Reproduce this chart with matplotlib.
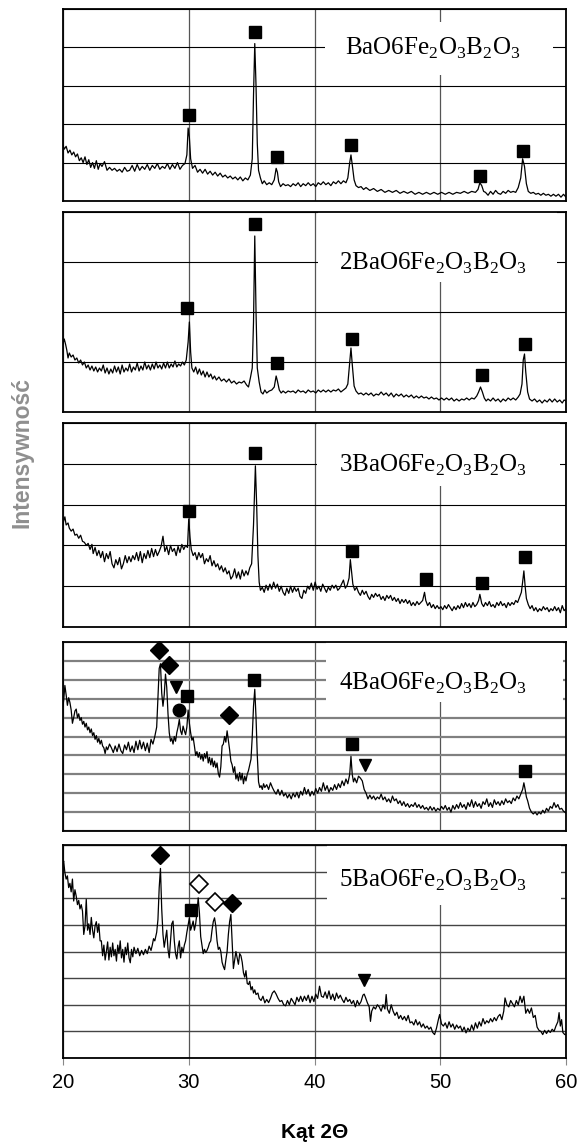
import matplotlib
matplotlib.use("Agg")
import matplotlib.pyplot as plt
from matplotlib.patches import Rectangle
from matplotlib.transforms import blended_transform_factory

plt.rcParams['font.family'] = ['Liberation Sans', 'DejaVu Sans']

# XRD patterns, intensity in % of the panel height, angle 2theta in degrees
p1 = [(20.0, 29), (20.1, 27), (20.25, 28.5), (20.4, 25), (20.55, 26.5), (20.7, 24), (20.85, 25.5), (21.0, 23),
      (21.15, 24.5), (21.3, 21), (21.45, 22.5), (21.6, 20), (21.75, 23), (21.9, 19), (22.05, 21.5), (22.2, 17.5),
      (22.35, 20), (22.5, 17), (22.65, 21), (22.8, 16.5), (22.95, 19.5), (23.1, 18), (23.3, 20.5), (23.5, 16),
      (23.7, 17.5), (23.9, 16), (24.1, 17), (24.3, 15.5), (24.5, 16.5), (24.7, 15), (24.9, 17.5), (25.1, 15.5),
      (25.3, 16), (25.5, 18.5), (25.7, 15.5), (25.9, 19), (26.1, 16), (26.3, 18), (26.5, 16.5), (26.7, 19),
      (26.9, 16), (27.1, 18.5), (27.3, 17), (27.5, 19.5), (27.7, 16.5), (27.9, 18), (28.1, 17), (28.3, 19.5),
      (28.5, 16.5), (28.7, 19), (28.9, 17), (29.1, 20), (29.3, 16.5), (29.5, 18.5), (29.7, 19.5), (29.85, 24),
      (29.95, 38), (30.05, 33), (30.15, 22), (30.3, 17), (30.5, 18.5), (30.7, 15), (30.9, 16.5), (31.1, 14.5),
      (31.3, 16.5), (31.5, 14), (31.7, 15.5), (31.9, 13.5), (32.1, 15), (32.3, 13), (32.5, 14.5), (32.7, 12.5),
      (32.9, 13.5), (33.1, 12), (33.3, 13), (33.5, 11.5), (33.7, 12.5), (33.9, 11), (34.1, 12.5), (34.3, 10.5),
      (34.5, 12), (34.7, 11), (34.9, 13.5), (35.05, 22), (35.15, 55), (35.25, 82), (35.35, 60), (35.45, 30),
      (35.55, 16), (35.7, 12), (35.85, 9), (36.0, 10.5), (36.2, 8.5), (36.4, 9.5), (36.6, 8.5), (36.8, 11),
      (36.95, 17), (37.05, 15), (37.15, 10), (37.3, 7.5), (37.5, 9), (37.7, 8), (37.9, 8.5), (38.1, 7.5),
      (38.3, 9), (38.5, 8), (38.7, 9.5), (38.9, 7.5), (39.1, 9), (39.3, 8), (39.5, 9.5), (39.7, 8), (39.9, 9),
      (40.1, 7.5), (40.3, 9.5), (40.5, 8.5), (40.7, 10), (40.9, 8.5), (41.1, 9.5), (41.3, 8), (41.5, 10),
      (41.7, 9), (41.9, 10.5), (42.1, 9), (42.3, 10.5), (42.5, 9.5), (42.65, 12), (42.8, 20), (42.9, 24),
      (43.0, 19), (43.15, 11), (43.3, 8), (43.5, 7), (43.7, 7.5), (43.9, 6), (44.1, 7), (44.4, 5.5), (44.7, 6.5),
      (45.0, 5), (45.3, 6), (45.6, 4.5), (45.9, 5.5), (46.2, 4.5), (46.5, 5.5), (46.8, 4), (47.1, 5), (47.4, 4),
      (47.7, 5), (48.0, 3.5), (48.3, 4.5), (48.6, 3.5), (48.9, 4.5), (49.2, 3.5), (49.5, 4.5), (49.8, 3.5),
      (50.1, 4.5), (50.4, 3.5), (50.7, 4.5), (51.0, 3.5), (51.3, 4.5), (51.6, 4), (51.9, 5), (52.2, 4), (52.5, 5),
      (52.8, 4.5), (53.0, 6), (53.15, 9.5), (53.3, 8), (53.45, 5), (53.6, 4.5), (53.8, 3), (54.0, 5), (54.2, 3.5),
      (54.4, 5.5), (54.6, 4), (54.8, 3.5), (55.0, 5), (55.2, 4), (55.4, 5.5), (55.6, 4.5), (55.8, 5), (56.0, 4.5),
      (56.2, 7), (56.4, 12), (56.55, 22), (56.7, 18), (56.85, 9), (57.0, 5), (57.2, 4), (57.4, 4.5), (57.6, 3.5),
      (57.8, 4), (58.0, 3), (58.2, 4), (58.4, 3), (58.6, 3.5), (58.8, 2.5), (59.0, 3.5), (59.2, 2.5), (59.4, 3.5),
      (59.6, 2), (59.8, 3.5), (60.0, 2)]

p2 = [(20.0, 34), (20.1, 36.5), (20.2, 34), (20.3, 31), (20.4, 27), (20.5, 29.5), (20.65, 27.5), (20.8, 28.5),
      (20.95, 26), (21.1, 27), (21.25, 24.5), (21.4, 26), (21.55, 23.5), (21.7, 25), (21.85, 22), (22.0, 23.5),
      (22.15, 21), (22.3, 23), (22.45, 20.5), (22.6, 22.5), (22.75, 20), (22.9, 22), (23.05, 20.5), (23.2, 23.5),
      (23.35, 19.5), (23.5, 22), (23.65, 19), (23.8, 21.5), (23.95, 19.5), (24.1, 23), (24.25, 20), (24.4, 22.5),
      (24.55, 19), (24.7, 23.5), (24.85, 20), (25.0, 22), (25.15, 20.5), (25.3, 24), (25.45, 20), (25.6, 22.5),
      (25.75, 21), (25.9, 24.5), (26.05, 20.5), (26.2, 23), (26.35, 21), (26.5, 25), (26.65, 21.5), (26.8, 23.5),
      (26.95, 21), (27.1, 24), (27.25, 21.5), (27.4, 25), (27.55, 22), (27.7, 23.5), (27.85, 21.5), (28.0, 24.5),
      (28.15, 22), (28.3, 25), (28.45, 22), (28.6, 24), (28.75, 22.5), (28.9, 25.5), (29.05, 22.5), (29.2, 24),
      (29.35, 23), (29.5, 25), (29.65, 23.5), (29.8, 26), (29.95, 35), (30.05, 45), (30.15, 30), (30.25, 22),
      (30.4, 20), (30.55, 22.5), (30.7, 19), (30.85, 21.5), (31.0, 18.5), (31.15, 20.5), (31.3, 17.5), (31.45, 20),
      (31.6, 17.5), (31.75, 19), (31.9, 16.5), (32.05, 18), (32.2, 16), (32.4, 17.5), (32.6, 15.5), (32.8, 16.5),
      (33.0, 15), (33.2, 16.5), (33.4, 14.5), (33.6, 15.5), (33.8, 14), (34.0, 15), (34.2, 14.5), (34.4, 15.5),
      (34.6, 13.5), (34.75, 12.5), (34.9, 17), (35.05, 22), (35.15, 45), (35.25, 88), (35.35, 50), (35.45, 22),
      (35.6, 15), (35.75, 10), (35.9, 9), (36.05, 11), (36.2, 9.5), (36.4, 10.5), (36.6, 11), (36.8, 12.5),
      (36.95, 18), (37.05, 15.5), (37.2, 11), (37.35, 9.5), (37.5, 10.5), (37.7, 9.5), (37.9, 10.5), (38.1, 10),
      (38.3, 10.5), (38.5, 9.5), (38.7, 11), (38.9, 10), (39.1, 10.5), (39.3, 9.5), (39.5, 11), (39.7, 10),
      (39.9, 10.5), (40.1, 9.5), (40.3, 11), (40.5, 10), (40.7, 11), (40.9, 10), (41.1, 11), (41.3, 10), (41.5, 11),
      (41.7, 10.5), (41.9, 11.5), (42.1, 10), (42.3, 11), (42.5, 12), (42.65, 14), (42.8, 25), (42.9, 32),
      (43.0, 24), (43.15, 13), (43.3, 10.5), (43.5, 9), (43.7, 9.5), (43.9, 8.5), (44.1, 9.5), (44.3, 8.5),
      (44.5, 9.5), (44.7, 8), (44.9, 9), (45.1, 8.5), (45.3, 10), (45.5, 8.5), (45.7, 9.5), (45.9, 8), (46.1, 9.5),
      (46.3, 7.5), (46.5, 9), (46.7, 8), (46.9, 9), (47.1, 7.5), (47.3, 8.5), (47.5, 7.5), (47.7, 8.5), (47.9, 7),
      (48.1, 8), (48.3, 7), (48.5, 8), (48.7, 7), (48.9, 7.5), (49.1, 6.5), (49.3, 7.5), (49.5, 6.5), (49.7, 7),
      (49.9, 6), (50.1, 7), (50.3, 6), (50.5, 7), (50.7, 6), (50.9, 7), (51.1, 5.5), (51.3, 6.5), (51.5, 5.5),
      (51.7, 6.5), (51.9, 6), (52.1, 7), (52.3, 6), (52.5, 7), (52.7, 6.5), (52.9, 8), (53.05, 10), (53.2, 12.5),
      (53.35, 10), (53.5, 7), (53.65, 5.5), (53.8, 6.5), (54.0, 5.5), (54.2, 7), (54.4, 5.5), (54.6, 6.5), (54.8, 5),
      (55.0, 6.5), (55.2, 5.5), (55.4, 7), (55.6, 6), (55.8, 7), (56.0, 6), (56.2, 7.5), (56.35, 9), (56.5, 14),
      (56.6, 26), (56.7, 29), (56.8, 20), (56.95, 10), (57.1, 6.5), (57.3, 5.5), (57.5, 6.5), (57.7, 5), (57.9, 6),
      (58.1, 4.5), (58.3, 6), (58.5, 5), (58.7, 6.5), (58.9, 5), (59.1, 6.5), (59.3, 5), (59.5, 6), (59.7, 4.5),
      (59.85, 6), (60.0, 5.5)]

p3 = [(20.0, 50), (20.05, 52), (20.15, 54), (20.25, 50), (20.4, 51), (20.5, 48.5), (20.65, 47), (20.8, 48),
      (20.95, 45), (21.1, 45.5), (21.25, 43.5), (21.4, 45), (21.55, 42), (21.7, 41.5), (21.85, 40), (22.0, 41),
      (22.15, 38), (22.3, 40.5), (22.4, 36), (22.55, 39), (22.7, 35), (22.85, 37.5), (23.0, 34), (23.15, 37),
      (23.3, 32), (23.45, 36), (23.6, 33.5), (23.75, 37), (23.9, 31), (24.05, 29), (24.2, 33), (24.35, 30.5),
      (24.5, 34), (24.65, 28.5), (24.8, 31), (24.95, 35), (25.1, 31.5), (25.25, 34.5), (25.4, 32), (25.55, 35),
      (25.7, 33), (25.85, 36.5), (26.0, 32.5), (26.15, 37), (26.3, 31.5), (26.45, 36), (26.6, 33.5), (26.75, 37.5),
      (26.9, 34), (27.05, 38.5), (27.2, 34.5), (27.35, 38), (27.5, 35), (27.65, 37), (27.8, 39.5), (27.95, 44.5),
      (28.1, 37), (28.25, 39.5), (28.4, 35.5), (28.55, 40), (28.7, 37), (28.85, 38.5), (29.0, 35), (29.15, 39.5),
      (29.3, 36.5), (29.45, 40.5), (29.6, 38), (29.75, 40), (29.9, 39), (30.0, 53), (30.1, 44), (30.2, 38),
      (30.35, 35), (30.5, 36.5), (30.65, 33), (30.8, 36.5), (30.95, 34), (31.1, 36), (31.25, 31), (31.4, 33.5),
      (31.55, 32), (31.7, 35), (31.85, 30), (32.0, 32.5), (32.15, 29.5), (32.3, 31), (32.45, 28), (32.6, 30),
      (32.75, 27), (32.9, 29), (33.05, 26), (33.2, 27.5), (33.35, 23.5), (33.5, 25), (33.65, 28.5), (33.8, 24),
      (33.95, 27), (34.1, 23.5), (34.25, 28), (34.4, 25), (34.55, 27.5), (34.7, 25.5), (34.85, 29), (35.0, 31),
      (35.15, 50), (35.3, 79), (35.4, 60), (35.5, 35), (35.6, 22), (35.7, 18), (35.85, 19.5), (36.0, 17),
      (36.15, 20.5), (36.3, 18), (36.45, 21), (36.6, 18.5), (36.75, 22), (36.9, 19), (37.05, 21), (37.2, 17.5),
      (37.35, 20), (37.5, 17), (37.65, 15.5), (37.8, 19), (37.95, 16.5), (38.1, 20), (38.25, 17), (38.4, 19.5),
      (38.55, 17.5), (38.7, 19), (38.85, 15), (39.0, 14), (39.15, 18), (39.3, 16.5), (39.45, 20), (39.6, 18.5),
      (39.75, 21.5), (39.9, 18), (40.05, 22), (40.2, 18.5), (40.35, 20), (40.5, 17.5), (40.65, 21), (40.8, 19),
      (40.95, 17), (41.1, 19.5), (41.25, 18), (41.4, 20.5), (41.55, 19), (41.7, 20.5), (41.85, 18), (42.0, 19),
      (42.15, 21), (42.3, 23), (42.45, 19), (42.6, 20.5), (42.75, 24), (42.85, 33), (42.95, 27), (43.05, 21),
      (43.2, 18), (43.35, 19.5), (43.5, 17), (43.65, 15.5), (43.8, 18), (43.95, 16), (44.1, 17.5), (44.25, 15),
      (44.4, 13.5), (44.55, 16), (44.7, 14.5), (44.85, 16.5), (45.0, 15), (45.15, 16), (45.3, 13.5), (45.45, 15),
      (45.6, 13), (45.75, 15.5), (45.9, 14), (46.05, 15.5), (46.2, 13), (46.35, 14.5), (46.5, 12.5), (46.65, 14),
      (46.8, 11.5), (46.95, 13.5), (47.1, 12), (47.25, 13.5), (47.4, 11.5), (47.55, 13), (47.7, 10.5), (47.85, 12),
      (48.0, 10.5), (48.15, 12.5), (48.3, 11), (48.45, 12), (48.6, 13), (48.75, 17), (48.85, 13), (49.0, 10.5),
      (49.15, 12), (49.3, 9.5), (49.45, 11), (49.6, 9), (49.75, 10.5), (49.9, 9), (50.05, 10), (50.2, 8.5),
      (50.35, 10.5), (50.5, 9), (50.65, 11), (50.8, 9.5), (50.95, 8), (51.1, 10), (51.25, 8.5), (51.4, 10.5),
      (51.55, 9), (51.7, 11.5), (51.85, 9.5), (52.0, 12), (52.15, 10), (52.3, 11.5), (52.45, 9.5), (52.6, 12),
      (52.75, 10), (52.9, 11), (53.05, 13), (53.15, 16), (53.3, 11.5), (53.45, 10), (53.6, 12), (53.75, 10.5),
      (53.9, 12.5), (54.05, 10), (54.2, 11), (54.35, 9.5), (54.5, 12), (54.65, 10.5), (54.8, 12.5), (54.95, 10.5),
      (55.1, 11.5), (55.25, 9.5), (55.4, 12), (55.55, 10.5), (55.7, 12), (55.85, 11), (56.0, 13), (56.15, 12),
      (56.3, 14.5), (56.45, 17), (56.55, 22), (56.65, 27.5), (56.75, 20), (56.85, 14), (57.0, 11), (57.15, 9),
      (57.3, 10.5), (57.45, 8), (57.6, 9.5), (57.75, 7.5), (57.9, 9), (58.05, 8), (58.2, 10), (58.35, 8.5),
      (58.5, 9.5), (58.65, 7.5), (58.8, 9), (58.95, 8), (59.1, 10), (59.25, 8), (59.4, 9.5), (59.55, 7),
      (59.7, 10.5), (59.85, 8), (60.0, 9)]

p4 = [(20.0, 66), (20.05, 69), (20.15, 77), (20.25, 72), (20.35, 66.5), (20.45, 70.5), (20.55, 68), (20.65, 64),
      (20.75, 57), (20.85, 60), (20.95, 63.5), (21.05, 64.5), (21.15, 60), (21.25, 62), (21.35, 58.5), (21.45, 60),
      (21.55, 56.5), (21.65, 58), (21.75, 55), (21.85, 57), (21.95, 53.5), (22.05, 55), (22.15, 52), (22.25, 54),
      (22.35, 50.5), (22.45, 52), (22.55, 48.5), (22.65, 50.5), (22.75, 47), (22.85, 49), (22.95, 46), (23.05, 48),
      (23.15, 45), (23.25, 44), (23.35, 41), (23.45, 44.5), (23.55, 43), (23.7, 46), (23.85, 44), (24.0, 41.5),
      (24.15, 45), (24.3, 42), (24.45, 46), (24.6, 42.5), (24.75, 41), (24.9, 45.5), (25.05, 43), (25.2, 47),
      (25.35, 42), (25.5, 45), (25.65, 41.5), (25.8, 47.5), (25.95, 43), (26.1, 48), (26.25, 43.5), (26.4, 47),
      (26.55, 42.5), (26.7, 46.5), (26.85, 41.5), (27.0, 48.5), (27.15, 46), (27.3, 50), (27.45, 55), (27.55, 70),
      (27.65, 86), (27.75, 88.5), (27.85, 73), (27.95, 66), (28.05, 72), (28.15, 83), (28.25, 76), (28.35, 62),
      (28.45, 52), (28.55, 47.5), (28.65, 49), (28.75, 46), (28.85, 50), (28.95, 47.5), (29.05, 52), (29.15, 55),
      (29.25, 59), (29.35, 53), (29.45, 51), (29.55, 55.5), (29.65, 53), (29.75, 51), (29.85, 55), (29.95, 64),
      (30.05, 57), (30.15, 52), (30.25, 48), (30.35, 49.5), (30.45, 45), (30.55, 40), (30.65, 42), (30.75, 39),
      (30.85, 41.5), (30.95, 38), (31.05, 40.5), (31.15, 37), (31.25, 41), (31.35, 38.5), (31.45, 42), (31.55, 36),
      (31.65, 39), (31.75, 35), (31.85, 38.5), (31.95, 34), (32.05, 37), (32.15, 33.5), (32.25, 36), (32.35, 30.5),
      (32.45, 28.5), (32.55, 34), (32.65, 45), (32.75, 46), (32.85, 50), (32.95, 47), (33.05, 53), (33.15, 48),
      (33.25, 43), (33.35, 37), (33.45, 35), (33.55, 31), (33.65, 34), (33.75, 27.5), (33.85, 30), (33.95, 26.5),
      (34.05, 31), (34.15, 27), (34.25, 30.5), (34.35, 25), (34.45, 29), (34.55, 26.5), (34.65, 30), (34.75, 32),
      (34.85, 35), (34.95, 38), (35.05, 50), (35.15, 66), (35.25, 75), (35.35, 60), (35.45, 40), (35.55, 26),
      (35.65, 23), (35.75, 24), (35.85, 22), (35.95, 25), (36.05, 23), (36.2, 24.5), (36.35, 22), (36.5, 25.5),
      (36.65, 23), (36.8, 21), (36.95, 19.5), (37.1, 22), (37.25, 19), (37.4, 21.5), (37.55, 18.5), (37.7, 20),
      (37.85, 17.5), (38.0, 19.5), (38.15, 17), (38.3, 20), (38.45, 18), (38.6, 20.5), (38.75, 17.5), (38.9, 21),
      (39.05, 19), (39.2, 23), (39.35, 19.5), (39.5, 22), (39.65, 18.5), (39.8, 21), (39.95, 19), (40.1, 22.5),
      (40.25, 20), (40.4, 23), (40.55, 21), (40.7, 25.5), (40.85, 21.5), (41.0, 24), (41.15, 20.5), (41.3, 23),
      (41.45, 21.5), (41.6, 24.5), (41.75, 22), (41.9, 25), (42.05, 23), (42.2, 26.5), (42.35, 24), (42.5, 27.5),
      (42.65, 25), (42.8, 30), (42.9, 39.5), (43.0, 30), (43.1, 26), (43.2, 28), (43.35, 25.5), (43.5, 29),
      (43.65, 28), (43.8, 26.5), (43.95, 22), (44.1, 20), (44.25, 17), (44.4, 19), (44.55, 17), (44.7, 18.5),
      (44.85, 16.5), (45.0, 18), (45.15, 17), (45.3, 19.5), (45.45, 16.5), (45.6, 18), (45.75, 15.5), (45.9, 17),
      (46.05, 15), (46.2, 18.5), (46.35, 16), (46.5, 17), (46.65, 14.5), (46.8, 16), (46.95, 13.5), (47.1, 15.5),
      (47.25, 13), (47.4, 14.5), (47.55, 12.5), (47.7, 14), (47.85, 13), (48.0, 15), (48.15, 12.5), (48.3, 14),
      (48.45, 12), (48.6, 13.5), (48.75, 11.5), (48.9, 12.5), (49.05, 11), (49.2, 13), (49.35, 11), (49.5, 12.5),
      (49.65, 10.5), (49.8, 12), (49.95, 11), (50.1, 13), (50.25, 11.5), (50.4, 13.5), (50.55, 11), (50.7, 12.5),
      (50.85, 10), (51.0, 13.5), (51.15, 11.5), (51.3, 14), (51.45, 12), (51.6, 15), (51.75, 12.5), (51.9, 14),
      (52.05, 11.5), (52.2, 15), (52.35, 13), (52.5, 16.5), (52.65, 12.5), (52.8, 15.5), (52.95, 13), (53.1, 14.5),
      (53.25, 12), (53.4, 15.5), (53.55, 14), (53.7, 17), (53.85, 13), (54.0, 15), (54.15, 12.5), (54.3, 16.5),
      (54.45, 14), (54.6, 15.5), (54.75, 13.5), (54.9, 16), (55.05, 14), (55.2, 17), (55.35, 15), (55.5, 16),
      (55.65, 14.5), (55.8, 17.5), (55.95, 16), (56.1, 18.5), (56.25, 17), (56.4, 19.5), (56.55, 22), (56.65, 25.5),
      (56.75, 22), (56.85, 18), (56.95, 16), (57.1, 12), (57.25, 10), (57.4, 9), (57.55, 10), (57.7, 8.5),
      (57.85, 10), (58.0, 9), (58.15, 11), (58.3, 9.5), (58.45, 12), (58.6, 10.5), (58.75, 13), (58.9, 12),
      (59.05, 15), (59.2, 12.5), (59.35, 14), (59.5, 11.5), (59.65, 12), (59.8, 10.5), (60.0, 9.5)]

p5 = [(20.0, 91), (20.05, 92.5), (20.15, 87), (20.25, 84), (20.35, 85.5), (20.45, 80), (20.55, 82), (20.65, 78),
      (20.75, 84), (20.85, 73.7), (20.95, 79), (21.05, 76), (21.15, 72), (21.25, 74), (21.35, 70), (21.45, 72),
      (21.55, 69), (21.65, 58), (21.75, 62), (21.85, 74.5), (21.95, 60), (22.05, 63), (22.15, 58), (22.25, 66),
      (22.35, 60), (22.45, 56.4), (22.55, 62), (22.65, 64), (22.75, 59), (22.85, 63), (22.95, 55), (23.05, 55),
      (23.15, 48), (23.25, 53), (23.35, 46), (23.45, 50), (23.55, 54.5), (23.65, 46), (23.75, 52), (23.85, 47.5),
      (23.95, 54), (24.05, 48), (24.15, 51), (24.25, 45.5), (24.35, 53), (24.45, 49), (24.55, 55), (24.65, 47),
      (24.75, 51), (24.85, 45), (24.95, 52), (25.05, 48.5), (25.15, 54), (25.25, 47), (25.35, 44.7), (25.45, 51),
      (25.55, 47.5), (25.65, 52), (25.8, 49), (25.95, 51.5), (26.1, 48), (26.25, 50.5), (26.4, 48.5), (26.55, 51),
      (26.7, 49), (26.85, 52.5), (27.0, 50.5), (27.1, 53), (27.2, 56), (27.3, 55), (27.45, 59), (27.55, 65),
      (27.65, 80), (27.75, 89), (27.85, 70), (27.95, 58), (28.05, 52), (28.15, 56), (28.25, 60), (28.35, 51),
      (28.45, 47), (28.55, 55), (28.65, 63), (28.75, 64.3), (28.85, 55), (28.95, 49), (29.05, 46.5), (29.15, 52),
      (29.25, 55), (29.35, 47), (29.45, 52), (29.55, 49.5), (29.65, 53), (29.75, 55), (29.85, 59), (29.95, 62.5),
      (30.05, 65.8), (30.15, 60), (30.25, 62), (30.35, 64.3), (30.45, 60), (30.55, 63), (30.65, 68), (30.75, 75.2),
      (30.85, 68), (30.95, 57), (31.05, 53), (31.15, 49), (31.25, 51), (31.35, 49.5), (31.45, 50.5), (31.55, 52),
      (31.65, 54), (31.75, 55), (31.85, 60), (31.95, 64), (32.05, 65.8), (32.15, 62), (32.25, 55), (32.35, 51),
      (32.45, 52), (32.55, 50), (32.65, 45), (32.75, 43), (32.85, 41.5), (32.95, 46), (33.05, 50), (33.15, 58),
      (33.25, 64), (33.35, 67.4), (33.45, 55), (33.55, 42), (33.65, 46), (33.75, 50), (33.85, 47), (33.95, 44),
      (34.05, 49), (34.15, 48), (34.25, 45), (34.35, 40), (34.45, 38), (34.55, 41), (34.65, 35), (34.75, 34.5),
      (34.85, 36), (34.95, 32), (35.05, 33.5), (35.15, 30.5), (35.25, 32), (35.35, 29.8), (35.5, 30.5), (35.6, 28),
      (35.75, 27), (35.9, 29), (36.05, 25.9), (36.2, 27.5), (36.35, 26), (36.5, 28), (36.65, 30.5), (36.8, 31.5),
      (36.95, 30), (37.1, 28), (37.25, 26.5), (37.4, 27), (37.55, 25), (37.7, 24.5), (37.85, 27), (38.0, 25),
      (38.15, 28), (38.3, 26.5), (38.45, 25), (38.6, 28.5), (38.75, 26.5), (38.9, 29), (39.05, 26.5), (39.2, 29),
      (39.35, 27), (39.5, 29.5), (39.65, 26), (39.8, 29), (39.95, 26.5), (40.1, 30), (40.25, 28), (40.4, 33.7),
      (40.55, 29), (40.7, 28.5), (40.85, 31), (41.0, 28), (41.15, 31.5), (41.3, 27.5), (41.45, 30), (41.6, 27),
      (41.75, 30.5), (41.9, 28), (42.05, 29.5), (42.2, 27.5), (42.35, 26), (42.5, 28.5), (42.65, 26.5), (42.8, 27.5),
      (42.95, 25.5), (43.1, 27), (43.25, 24), (43.4, 27), (43.55, 25), (43.7, 26.5), (43.85, 29.5), (43.95, 30),
      (44.05, 28.5), (44.2, 26), (44.35, 24), (44.45, 17.2), (44.55, 22), (44.7, 24), (44.85, 23), (45.0, 25),
      (45.15, 24), (45.3, 22), (45.45, 25), (45.6, 23), (45.7, 29.8), (45.8, 23), (45.95, 21), (46.1, 25),
      (46.25, 22), (46.4, 20), (46.55, 21.5), (46.7, 18.5), (46.85, 20), (47.0, 18), (47.15, 19.5), (47.3, 17.5),
      (47.45, 20), (47.6, 16.5), (47.75, 17), (47.9, 15.5), (48.05, 18), (48.2, 15.5), (48.35, 17), (48.5, 14.5),
      (48.65, 16), (48.8, 14), (48.95, 15), (49.1, 13.5), (49.25, 14.5), (49.4, 12), (49.55, 11), (49.7, 14),
      (49.85, 18), (49.95, 20.4), (50.1, 16), (50.25, 15), (50.4, 16.5), (50.55, 14), (50.7, 17), (50.85, 14.5),
      (51.0, 16), (51.15, 13.5), (51.3, 15.5), (51.45, 14), (51.6, 15), (51.75, 12.5), (51.9, 14.5), (52.05, 11.8),
      (52.2, 14), (52.35, 12.5), (52.5, 15.5), (52.65, 13), (52.8, 16.5), (52.95, 14), (53.1, 17), (53.25, 15),
      (53.4, 18.5), (53.55, 16), (53.7, 17.5), (53.85, 16.5), (54.0, 18.5), (54.15, 17), (54.3, 19), (54.45, 17.5),
      (54.6, 19.5), (54.75, 20.5), (54.9, 18), (55.05, 22), (55.15, 28.2), (55.3, 25), (55.45, 24), (55.6, 27),
      (55.75, 25.5), (55.9, 24), (56.05, 27), (56.2, 25), (56.35, 29), (56.5, 26), (56.65, 29), (56.8, 21),
      (56.95, 23), (57.1, 21), (57.25, 23.5), (57.4, 19), (57.55, 20), (57.7, 14.5), (57.85, 13), (58.0, 12.5),
      (58.15, 11), (58.3, 13), (58.45, 11.5), (58.6, 13), (58.75, 12), (58.9, 13.5), (59.05, 12.5), (59.2, 15),
      (59.35, 17), (59.45, 21.3), (59.55, 15), (59.65, 18), (59.75, 12), (59.9, 11), (60.0, 11)]

# phase markers: (2theta, height in % of panel)
p1_squares = [(30.0, 45), (35.3, 88), (37.0, 23), (42.9, 29), (53.2, 13), (56.6, 26)]
p2_squares = [(29.9, 52), (35.3, 94), (37.0, 24.5), (43.0, 36.7), (53.3, 18.3), (56.7, 34)]
p3_squares = [(30.0, 57), (35.3, 85.5), (43.0, 37.4), (48.9, 23.4), (53.3, 21.4), (56.7, 34.4)]
p4_squares = [(29.9, 71.6), (35.2, 80), (43.0, 46), (56.75, 31.6)]
p4_diamonds = [(27.65, 95.6), (28.4, 88), (33.2, 61.4)]
p4_triangles = [(29.0, 76), (44.0, 35)]
p4_circles = [(29.25, 64)]
p5_squares = [(30.15, 69.4)]
p5_diamonds = [(27.75, 95.3), (33.45, 72.9)]
p5_open_diamonds = [(30.85, 81.5), (32.05, 73.2)]
p5_triangles = [(43.95, 36.4)]

labels = ["BaO6Fe$_\\mathregular{2}$O$_\\mathregular{3}$B$_\\mathregular{2}$O$_\\mathregular{3}$",
          "2BaO6Fe$_\\mathregular{2}$O$_\\mathregular{3}$B$_\\mathregular{2}$O$_\\mathregular{3}$",
          "3BaO6Fe$_\\mathregular{2}$O$_\\mathregular{3}$B$_\\mathregular{2}$O$_\\mathregular{3}$",
          "4BaO6Fe$_\\mathregular{2}$O$_\\mathregular{3}$B$_\\mathregular{2}$O$_\\mathregular{3}$",
          "5BaO6Fe$_\\mathregular{2}$O$_\\mathregular{3}$B$_\\mathregular{2}$O$_\\mathregular{3}$"]
x_ticks = [20, 30, 40, 50, 60]

W, H = 580, 1146
fig = plt.figure(figsize=(W / 100, H / 100), dpi=100)

# panel layout in pixels: (top, bottom), grid divisions, label y, white box
panels = [
    dict(data=p1, rows=(9, 201), ndiv=5, ly=0.797, box=(40.8, 59.0, 0.655, 0.93), hcol='black', hlw=0.8),
    dict(data=p2, rows=(212, 412), ndiv=4, ly=0.745, box=(40.3, 59.3, 0.65, 1.0), hcol='black', hlw=0.8),
    dict(data=p3, rows=(423, 627), ndiv=5, ly=0.794, box=(40.2, 59.5, 0.69, 1.0), hcol='black', hlw=0.8),
    dict(data=p4, rows=(642, 831), ndiv=10, ly=0.783, box=(40.9, 59.8, 0.68, 1.0), hcol='#808080', hlw=1.6),
    dict(data=p5, rows=(845, 1058), ndiv=8, ly=0.836, box=(41.0, 59.6, 0.72, 1.0), hcol='#444444', hlw=1.0),
]
left, right = 63, 566

axes = []
for i, p in enumerate(panels):
    top, bottom = p['rows']
    ax = fig.add_axes([left / W, 1 - bottom / H, (right - left) / W, (bottom - top) / H])
    xs, ys = zip(*p['data'])
    ax.plot(xs, ys, color='black', lw=0.9, zorder=3)
    ax.set_xlim(20, 60)
    ax.set_ylim(0, 100)
    ax.set_xticks(x_ticks)
    ax.set_yticks([100 * k / p['ndiv'] for k in range(p['ndiv'] + 1)])
    ax.grid(True, axis='y', color=p['hcol'], lw=p['hlw'])
    ax.grid(True, axis='x', color='#555555', lw=0.9)
    ax.set_axisbelow(True)
    ax.tick_params(left=False, labelleft=False, bottom=False, labelbottom=False)
    for s in ax.spines.values():
        s.set_linewidth(1.3)
        s.set_zorder(6)
    trans = blended_transform_factory(ax.transData, ax.transAxes)
    x0, x1, y0, y1 = p['box']
    ax.add_patch(Rectangle((x0, y0), x1 - x0, y1 - y0, transform=trans,
                           facecolor='white', edgecolor='none', zorder=2))
    ax.text(49.4, p['ly'], labels[i], transform=trans, ha='center', va='center',
            fontsize=18, family='Liberation Serif', zorder=4)
    axes.append(ax)


def put(ax, pts, marker, ms, **kw):
    xs, ys = zip(*pts)
    ax.plot(xs, ys, ls='none', marker=marker, ms=ms, color='black', zorder=5, clip_on=False, **kw)


put(axes[0], p1_squares, 's', 8)
put(axes[1], p2_squares, 's', 8)
put(axes[2], p3_squares, 's', 8)
put(axes[3], p4_squares, 's', 8)
put(axes[3], p4_diamonds, 'D', 9)
put(axes[3], p4_triangles, 'v', 9)
put(axes[3], p4_circles, 'o', 9)
put(axes[4], p5_squares, 's', 8)
put(axes[4], p5_diamonds, 'D', 9)
put(axes[4], p5_open_diamonds, 'D', 9, mfc='white', mec='black', mew=1.2)
put(axes[4], p5_triangles, 'v', 9)

axes[4].tick_params(bottom=True, labelbottom=True, direction='out', length=5,
                    color='#888888', labelsize=14.5, pad=6)

fig.text((left + right) / 2 / W, 1 - 1132 / H, 'Kąt 2Θ', ha='center', va='center',
         fontsize=15, fontweight='bold')
fig.text(22 / W, 1 - 452 / H, 'Intensywność', rotation=90, ha='center', va='center',
         fontsize=16.5, fontweight='bold', color='#8f8f8f')

fig.savefig('out.png', dpi=100)
